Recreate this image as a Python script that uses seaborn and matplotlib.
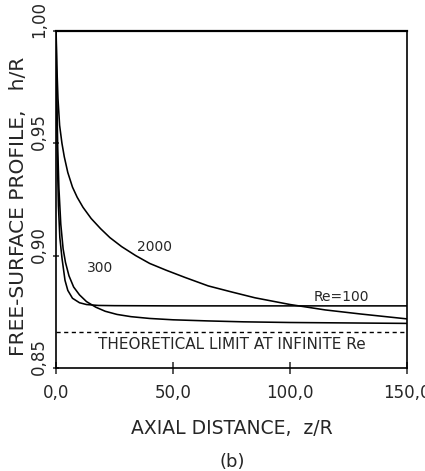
import matplotlib
matplotlib.use("Agg")
import numpy as np
import pandas as pd
import seaborn as sns
import matplotlib.pyplot as plt
from matplotlib import transforms

# Free-surface height h/R versus axial distance z/R for three Reynolds numbers
z_re100 = [0, 0.2, 0.5, 1.0, 1.6, 2.5, 3.8, 5.0, 7.0, 10.0, 13.0, 18.0, 25.0, 50.0, 100.0, 150.0]
h_re100 = [1.0, 0.972, 0.945, 0.922, 0.908, 0.899, 0.889, 0.8845, 0.881, 0.879, 0.8782, 0.8778,
           0.8777, 0.8776, 0.8776, 0.8776]

z_re300 = [0, 0.3, 0.7, 1.2, 2.0, 3.0, 4.0, 5.5, 7.5, 10.0, 13.0, 17.0, 21.0, 26.0, 32.0, 40.0,
           50.0, 65.0, 80.0, 100.0, 125.0, 150.0]
h_re300 = [1.0, 0.97, 0.948, 0.93, 0.914, 0.903, 0.897, 0.891, 0.886, 0.8825, 0.8795, 0.877,
           0.8752, 0.8738, 0.8728, 0.872, 0.8714, 0.8709, 0.8705, 0.8702, 0.870, 0.8698]

z_re2000 = [0, 0.3, 0.8, 1.5, 2.5, 3.5, 5.0, 7.0, 9.0, 11.5, 15.0, 19.0, 23.0, 28.0, 34.0, 40.0,
            47.0, 55.0, 65.0, 75.0, 85.0, 100.0, 115.0, 130.0, 150.0]
h_re2000 = [1.0, 0.985, 0.97, 0.958, 0.95, 0.944, 0.937, 0.9305, 0.926, 0.9215, 0.9165, 0.912,
            0.908, 0.904, 0.900, 0.8965, 0.8935, 0.8903, 0.8865, 0.8838, 0.8812, 0.8782,
            0.8758, 0.8740, 0.8718]

h_limit = 0.866  # inviscid limit, sqrt(3)/2

x_ticks = [0, 50, 100, 150]
x_ticklabels = ["0,0", "50,0", "100,0", "150,0"]
y_ticks = [0.85, 0.90, 0.95, 1.00]
y_ticklabels = ["0,85", "0,90", "0,95", "1,00"]

series = [("100", z_re100, h_re100), ("300", z_re300, h_re300), ("2000", z_re2000, h_re2000)]
df = pd.concat(
    [pd.DataFrame({"z": z, "h": h, "Re": re}) for re, z, h in series],
    ignore_index=True,
)

sns.set_style("ticks")
plt.rcParams["font.family"] = ["DejaVu Sans"]

fig = plt.figure(figsize=(4.25, 4.71), dpi=100)
ax = fig.add_axes([0.132, 0.219, 0.826, 0.715])

sns.lineplot(data=df, x="z", y="h", hue="Re", palette=["black"] * 3, legend=False,
             linewidth=1.15, ax=ax, sort=False, estimator=None)
ax.axhline(h_limit, color="black", linestyle=(0, (3, 2.5)), linewidth=1.0)

ax.set_xlim(0, 150)
ax.set_ylim(0.85, 1.00)
for s in ax.spines.values():
    s.set_linewidth(1.2)
    s.set_color("black")
ax.spines["top"].set_linewidth(1.6)

ax.set_xticks(x_ticks)
ax.set_xticklabels(x_ticklabels, fontsize=12)
ax.set_yticks(y_ticks)
ax.set_yticklabels(y_ticklabels, fontsize=12, rotation=90, va="bottom")
ax.tick_params(axis="x", direction="inout", length=9, width=1.1, pad=7)
ax.tick_params(axis="y", direction="inout", length=4.5, width=1.1, pad=3.5)
shift = transforms.ScaledTranslation(0, -7 / 100, fig.dpi_scale_trans)
for lab in ax.get_yticklabels():
    lab.set_transform(lab.get_transform() + shift)

ax.set_xlabel("AXIAL DISTANCE,  z/R", fontsize=13.5)
ax.xaxis.set_label_coords(0.5, -0.151)
ax.set_ylabel("FREE-SURFACE PROFILE,   h/R", fontsize=14.5, va="center")
ax.yaxis.set_label_coords(-0.107, 0.48)

ax.text(42, 0.904, "2000", fontsize=10, ha="center", va="center")
ax.text(18.7, 0.8946, "300", fontsize=10, ha="center", va="center")
ax.text(122, 0.8817, "Re=100", fontsize=10, ha="center", va="center")
ax.text(75, 0.8605, "THEORETICAL LIMIT AT INFINITE Re", fontsize=11, ha="center", va="center")

fig.text(232 / 425, 1 - 462 / 471, "(b)", fontsize=13, ha="center", va="center")

fig.savefig("out.png", dpi=100)
